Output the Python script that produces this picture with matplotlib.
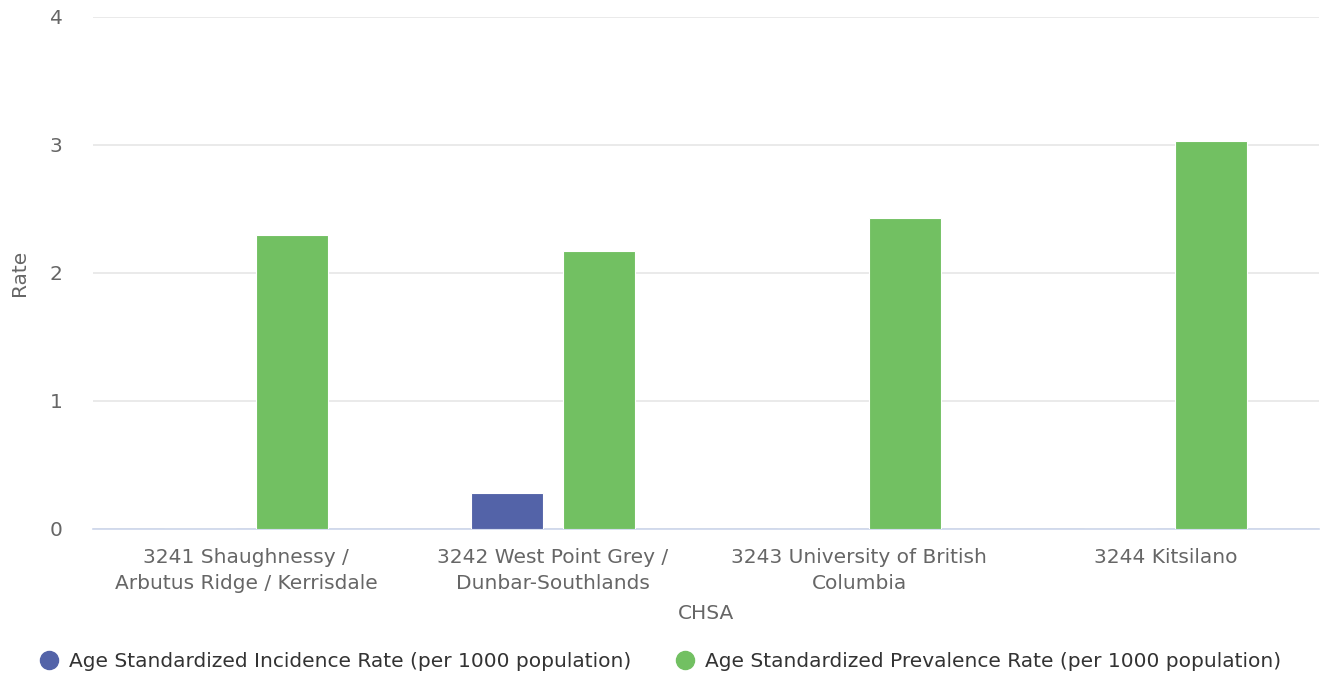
import numpy as np
import matplotlib.pyplot as plt
from matplotlib.lines import Line2D

categories = ["3241 Shaughnessy /\nArbutus Ridge / Kerrisdale",
              "3242 West Point Grey /\nDunbar-Southlands",
              "3243 University of British\nColumbia",
              "3244 Kitsilano"]
incidence = [0, 0.285, 0, 0]
prevalence = [2.30, 2.17, 2.43, 3.03]
series_names = ["Age Standardized Incidence Rate (per 1000 population)",
                "Age Standardized Prevalence Rate (per 1000 population)"]
colors = ["#5363a8", "#72c062"]

plt.rcParams['font.family'] = ['DejaVu Sans']

fig = plt.figure(figsize=(13.2, 6.77), dpi=100)
ax = fig.add_axes([93 / 1320, 1 - 529 / 677, 1 - 93 / 1320 - 0.001, (529 - 17) / 677])

x = np.arange(len(categories))
w = 0.235
ax.bar(x - 0.15, incidence, w, color=colors[0], edgecolor="white", linewidth=0.8, zorder=3)
ax.bar(x + 0.15, prevalence, w, color=colors[1], edgecolor="white", linewidth=0.8, zorder=3)

ax.set_xlim(-0.5, 3.5)
ax.set_ylim(0, 4)
ax.set_yticks([0, 1, 2, 3, 4])
ax.grid(axis="y", color="#e6e6e6", linewidth=1.2, zorder=0)
for s in ["top", "right", "left"]:
    ax.spines[s].set_visible(False)
ax.spines["bottom"].set_color("#ccd6eb")
ax.spines["bottom"].set_linewidth(1.2)
ax.tick_params(axis="both", length=0, labelcolor="#666666", labelsize=14.5)
ax.tick_params(axis="y", pad=22)
ax.tick_params(axis="x", pad=14)
ax.set_xticks(x)
ax.set_xticklabels(categories, linespacing=1.45)

ax.set_ylabel("Rate", fontsize=14.5, color="#666666")
ax.yaxis.set_label_coords(-0.052, 0.5)
ax.set_xlabel("CHSA", fontsize=14.5, color="#666666", labelpad=8)

handles = [Line2D([], [], marker="o", linestyle="", markersize=13, color=c) for c in colors]
fig.legend(handles, series_names, loc="lower center", ncol=2, frameon=False,
           bbox_to_anchor=(0.5, -0.018), fontsize=14.5, labelcolor="#333333",
           handlelength=1.0, handletextpad=0.5, columnspacing=2.2)

fig.savefig("out.png", dpi=100)
